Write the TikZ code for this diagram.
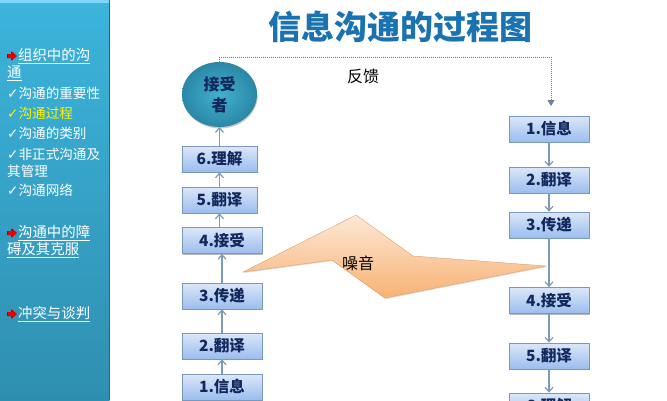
\documentclass[tikz,border=0pt]{standalone}
\usepackage{fontspec}
\setmainfont{Noto Sans CJK SC}
\newfontfamily\symfont{DejaVu Sans}
\usetikzlibrary{shadows,arrows.meta}
\definecolor{sideTop}{HTML}{3CB4DC}
\definecolor{sideBot}{HTML}{2F8FB0}
\definecolor{boxTop}{HTML}{DCE7F8}
\definecolor{boxBot}{HTML}{9ABDEE}
\definecolor{boxEdge}{HTML}{7A97BC}
\definecolor{boxText}{HTML}{12285C}
\definecolor{arrowCol}{HTML}{7F99B8}
\definecolor{titleCol}{HTML}{1A72B0}
\definecolor{noiseTop}{HTML}{FDE8D6}
\definecolor{noiseBot}{HTML}{F8B274}
\definecolor{discIn}{HTML}{3FB2CF}
\definecolor{discOut}{HTML}{2B87A6}
\tikzset{
  stepbox/.style={draw=boxEdge,line width=.7pt,top color=boxTop,bottom color=boxBot,
    minimum height=26pt,inner sep=0pt,text=boxText,font=\bfseries\fontsize{15.5}{16}\selectfont,
    drop shadow={shadow xshift=.6pt,shadow yshift=-1.2pt,fill=black!55,opacity=.5}},
  narrowbox/.style={stepbox,minimum width=75pt},
  widebox/.style={stepbox,minimum width=80pt},
  flow/.style={draw=arrowCol,line width=1.2pt,-{Straight Barb[length=4.5pt,width=8pt]}},
  feedback/.style={draw=arrowCol!85!black,line width=1pt,densely dotted,-{Triangle[length=6pt,width=7pt]}},
  heading/.style={anchor=west,text=white,inner sep=0pt,font=\fontsize{14.4}{15}\selectfont},
  sub/.style={anchor=west,text=white,inner sep=0pt,font=\fontsize{13.6}{15}\selectfont},
  plain/.style={text=black,inner sep=0pt,font=\fontsize{16}{16}\selectfont},
}
\newcommand{\chk}{{\symfont ✓}}
\newcommand{\bulletarrow}[1]{%
  \fill[black!80] (7,#1-2) -- (11,#1-2) -- (11,#1-4.5) -- (16.5,#1) -- (11,#1+4.5) -- (11,#1+2) -- (7,#1+2) -- cycle;
  \fill[red!90!black] (8,#1-2) -- (12,#1-2) -- (12,#1-4.5) -- (17,#1) -- (12,#1+4.5) -- (12,#1+2) -- (8,#1+2) -- cycle;}
\begin{document}
\begin{tikzpicture}[x=1pt,y=-1pt]
\clip (0,0) rectangle (667,400);
\fill[white] (0,0) rectangle (667,400);
% sidebar
\shade[top color=sideTop,bottom color=sideBot] (0,0) rectangle (109.5,400);
\fill[black!25!sideBot] (109,0) rectangle (110.3,400);
\fill[cyan!50!white] (0,0) rectangle (109,2.5);
% sidebar text
\bulletarrow{56}
\node[heading] (h1a) at (18,56) {\underline{组织中的沟}};
\node[heading] (h1b) at (7,73) {\underline{通}};
\node[sub] (s1) at (7,93) {\chk 沟通的重要性};
\node[sub,text=yellow] (s2) at (7,113) {\chk 沟通过程};
\node[sub] (s3) at (7,133) {\chk 沟通的类别};
\node[sub] (s4a) at (7,154) {\chk 非正式沟通及};
\node[sub] (s4b) at (7,171) {其管理};
\node[sub] (s5) at (7,190) {\chk 沟通网络};
\bulletarrow{233}
\node[heading] (h2a) at (18,233) {\underline{沟通中的障}};
\node[heading] (h2b) at (7,250) {\underline{碍及其克服}};
\bulletarrow{314}
\node[heading] (h3) at (18,314) {\underline{冲突与谈判}};
% title
\node[text=titleCol,inner sep=0pt,font=\bfseries\fontsize{33}{36}\selectfont] (title) at (400,27) {信息沟通的过程图};
% receiver
\shade[inner color=discIn,outer color=discOut,
  drop shadow={shadow xshift=.6pt,shadow yshift=-1.5pt,fill=black!45,opacity=.45}]
  (219.5,94.5) ellipse [x radius=37.5,y radius=32.5];
\node[text=boxText,align=center,inner sep=0pt,font=\bfseries\fontsize{16}{21}\selectfont] (recv) at (219.5,94.5) {接受\\者};
% left column
\node[narrowbox] (l6) at (219.5,159) {6.理解};
\node[narrowbox] (l5) at (219.5,200) {5.翻译};
\node[widebox] (l4) at (222,240.5) {4.接受};
\node[widebox] (l3) at (222,296) {3.传递};
\node[widebox] (l2) at (222,346) {2.翻译};
\node[widebox] (l1) at (222,387) {1.信息};
% right column
\node[widebox] (r1) at (549,129) {1.信息};
\node[widebox] (r2) at (549,180) {2.翻译};
\node[widebox] (r3) at (549,225) {3.传递};
\node[widebox] (r4) at (549,300.5) {4.接受};
\node[widebox] (r5) at (549,356) {5.翻译};
\node[widebox] (r6) at (549,406) {6.理解};
% connectors
\draw[flow] (l1) -- (l2);
\draw[flow] (l2) -- (l3);
\draw[flow] (l3) -- (l4);
\draw[flow] (l4.north -| l5) -- (l5);
\draw[flow] (l5) -- (l6);
\coordinate (recvfoot) at (219.5,127);
\draw[flow] (l6) -- (recvfoot);
\draw[flow] (r1) -- (r2);
\draw[flow] (r2) -- (r3);
\draw[flow] (r3) -- (r4);
\draw[flow] (r4) -- (r5);
\draw[flow] (r5) -- (r6);
\coordinate (fbtop) at (219.5,62);
\coordinate (fbcorner) at (219.5,57);
\coordinate (fbend) at (551,106);
\draw[feedback] (fbtop) -- (fbcorner) -| (fbend);
\node[plain] (fb) at (363,76) {反馈};
% noise
\draw[draw=noiseBot!90!black,line width=.4pt,top color=noiseTop,bottom color=noiseBot,
  drop shadow={shadow xshift=.5pt,shadow yshift=-1pt,fill=black!40,opacity=.35}]
  (243,272) -- (356,215) -- (413,256) -- (546,266) -- (385,298) -- (332,260) -- cycle;
\node[plain] (noise) at (358,263) {噪音};
\end{tikzpicture}
\end{document}
